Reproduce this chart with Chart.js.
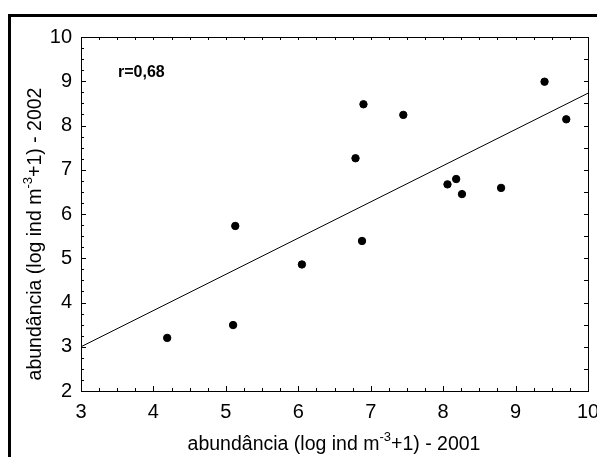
<!DOCTYPE html>
<html>
<head>
<meta charset="utf-8">
<script src="https://cdn.jsdelivr.net/npm/chart.js@4"></script>
<style>
    body { margin: 0; background: #fff; }
    #wrap { position: relative; width: 597px; height: 457px; }
</style>
</head>
<body>
<div id="wrap"><canvas id="grafico" width="597" height="457"></canvas></div>
<script>
// dados (log ind m-3 + 1)
const abund2001 = [4.19, 5.10, 5.13, 6.05, 6.79, 6.90, 6.88, 7.45, 8.06, 8.18, 8.26, 8.80, 9.40, 9.70];
const abund2002 = [3.20, 3.49, 5.73, 4.86, 7.26, 8.48, 5.39, 8.24, 6.67, 6.79, 6.45, 6.59, 8.99, 8.14];
// reta de regressão (extremos)
const retaX = [3, 10];
const retaY = [3.0, 8.73];
const ticksX = [3, 4, 5, 6, 7, 8, 9, 10];
const ticksY = [2, 3, 4, 5, 6, 7, 8, 9, 10];
const textoR = 'r=0,68';

const fonte = '"Liberation Sans", Arial, sans-serif';

const pontos = abund2001.map(function (x, i) { return { x: x, y: abund2002[i] }; });
const reta = retaX.map(function (x, i) { return { x: x, y: retaY[i] }; });

// desenha titulo com expoente
function textoComExpoente(ctx, partes, x, y) {
    // partes: [texto, expoente, texto]
    ctx.font = '19.5px ' + fonte;
    const w1 = ctx.measureText(partes[0]).width;
    const w3 = ctx.measureText(partes[2]).width;
    ctx.font = '13px ' + fonte;
    const w2 = ctx.measureText(partes[1]).width;
    const total = w1 + w2 + w3;
    let px = x - total / 2;
    ctx.textAlign = 'left';
    ctx.textBaseline = 'middle';
    ctx.font = '19.5px ' + fonte;
    ctx.fillText(partes[0], px, y);
    px += w1;
    ctx.font = '13px ' + fonte;
    ctx.fillText(partes[1], px, y - 8);
    px += w2;
    ctx.font = '19.5px ' + fonte;
    ctx.fillText(partes[2], px, y);
}

const extras = {
    id: 'extras',
    beforeDraw(chart) {
        const ctx = chart.ctx;
        ctx.save();
        ctx.fillStyle = '#fff';
        ctx.fillRect(0, 0, chart.width, chart.height);
        // moldura externa
        ctx.fillStyle = '#000';
        ctx.fillRect(8, 14, chart.width - 8, 3);
        ctx.fillRect(8, 14, 3, chart.height - 14);
        ctx.restore();
    },
    afterDraw(chart) {
        const ctx = chart.ctx;
        const sx = chart.scales.x;
        const sy = chart.scales.y;
        const a = chart.chartArea;
        ctx.save();
        ctx.strokeStyle = '#000';
        ctx.lineWidth = 1;
        ctx.beginPath();
        // ticks x (baixo e topo), para dentro
        for (let v = 3; v <= 10.001; v += 0.25) {
            const px = Math.round(sx.getPixelForValue(v)) + 0.5;
            const maior = Math.abs(v - Math.round(v)) < 0.01;
            const lb = maior ? 5 : 3;
            ctx.moveTo(px, a.bottom); ctx.lineTo(px, a.bottom - lb);
            ctx.moveTo(px, a.top); ctx.lineTo(px, a.top + 3);
        }
        // ticks y (esquerda e direita)
        for (let v = 2; v <= 10.001; v += 0.25) {
            const py = Math.round(sy.getPixelForValue(v)) + 0.5;
            const maior = Math.abs(v - Math.round(v)) < 0.01;
            ctx.moveTo(a.left, py); ctx.lineTo(a.left + (maior ? 5 : 3), py);
            if (Math.abs(v * 2 - Math.round(v * 2)) < 0.01) {
                ctx.moveTo(a.right, py); ctx.lineTo(a.right - 4, py);
            }
        }
        ctx.stroke();

        ctx.fillStyle = '#000';
        ctx.font = 'bold 16px ' + fonte;
        ctx.textAlign = 'left';
        ctx.textBaseline = 'middle';
        ctx.fillText(textoR, 118, 73);

        // titulos dos eixos
        textoComExpoente(ctx, ['abundância (log ind m', '-3', '+1) - 2001'], 334, 445);
        ctx.translate(36, 234);
        ctx.rotate(-Math.PI / 2);
        textoComExpoente(ctx, ['abundância (log ind m', '-3', '+1) - 2002'], 0, 0);
        ctx.restore();
    }
};

const config = {
    type: 'scatter',
    data: {
        datasets: [{
            label: 'pontos',
            data: pontos,
            backgroundColor: '#000',
            borderColor: '#000',
            pointRadius: 3.7,
            pointHoverRadius: 3.7
        }, {
            type: 'line',
            label: 'regressao',
            data: reta,
            borderColor: '#000',
            borderWidth: 1,
            pointRadius: 0,
            fill: false
        }]
    },
    options: {
        responsive: false,
        animation: false,
        layout: { padding: { top: 37, right: 9, left: 0, bottom: 0 } },
        plugins: {
            legend: { display: false },
            tooltip: { enabled: false }
        },
        scales: {
            x: {
                type: 'linear',
                min: 3,
                max: 10,
                afterFit: function (s) { s.height = 66; s.paddingLeft = 0; s.paddingRight = 0; },
                afterBuildTicks: function (s) { s.ticks = ticksX.map(function (v) { return { value: v }; }); },
                grid: { display: false, drawTicks: false },
                border: { display: true, color: '#000', width: 1 },
                ticks: {
                    color: '#000',
                    padding: 9,
                    font: { family: fonte, size: 20 }
                }
            },
            y: {
                type: 'linear',
                min: 2,
                max: 10,
                afterFit: function (s) { s.width = 81; s.paddingTop = 0; s.paddingBottom = 0; },
                afterBuildTicks: function (s) { s.ticks = ticksY.map(function (v) { return { value: v }; }); },
                grid: { display: false, drawTicks: false },
                border: { display: true, color: '#000', width: 1 },
                ticks: {
                    color: '#000',
                    padding: 9,
                    font: { family: fonte, size: 20 }
                }
            },
            x2: {
                type: 'linear', position: 'top', display: true, min: 3, max: 10,
                afterFit: function (s) { s.height = 0; },
                grid: { display: false, drawTicks: false },
                border: { display: true, color: '#000', width: 1 },
                ticks: { display: false }
            },
            y2: {
                type: 'linear', position: 'right', display: true, min: 2, max: 10,
                afterFit: function (s) { s.width = 0; },
                grid: { display: false, drawTicks: false },
                border: { display: true, color: '#000', width: 1 },
                ticks: { display: false }
            }
        }
    },
    plugins: [extras]
};

new Chart(document.getElementById('grafico'), config);
</script>
</body>
</html>
